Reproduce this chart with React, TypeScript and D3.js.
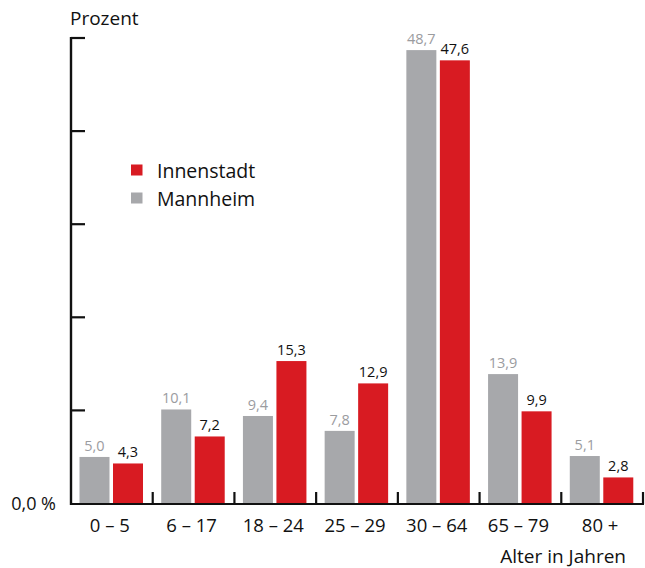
import React from "react";
import * as d3 from "d3";

const categories = ["0 – 5", "6 – 17", "18 – 24", "25 – 29", "30 – 64", "65 – 79", "80 +"];
const seriesNames = ["Mannheim", "Innenstadt"];
const mannheim = [5.0, 10.1, 9.4, 7.8, 48.7, 13.9, 5.1];
const innenstadt = [4.3, 7.2, 15.3, 12.9, 47.6, 9.9, 2.8];
const yTicks = [0, 10, 20, 30, 40, 50];

const RED = "#d81b22";
const GRAY = "#a7a8ab";
const LABEL_GRAY = "#9b9c9f";
const FONT = "'Open Sans', 'DejaVu Sans', sans-serif";

export default function App() {
  const W = 645, H = 568;
  const axisX = 71, axisRight = 643, baseY = 504;
  const y = d3.scaleLinear().domain([0, 50]).range([503.5, 38]);
  const x0 = d3.scaleBand<string>().domain(categories).range([axisX, axisRight]).paddingInner(0).paddingOuter(0);
  const x1 = d3.scaleBand<string>().domain(seriesNames).range([8.5, 72]).paddingInner(0.1045);
  const fmt = (v: number) => v.toFixed(1).replace(".", ",");
  const series = [
    { name: "Mannheim", values: mannheim, color: GRAY, label: LABEL_GRAY },
    { name: "Innenstadt", values: innenstadt, color: RED, label: "#111" },
  ];
  const boundaries = categories.map((c) => (x0(c) as number) + x0.bandwidth());

  return (
    <svg width={W} height={H} style={{ position: "absolute", left: 0, top: 0 }} fontFamily={FONT}>
      <rect width={W} height={H} fill="#fff" />
      {/* bars */}
      {series.map((s) =>
        s.values.map((v, i) => {
          const bx = (x0(categories[i]) as number) + (x1(s.name) as number);
          const top = y(v);
          return (
            <g key={s.name + i}>
              <rect x={bx} y={top} width={x1.bandwidth()} height={y(0) - top} fill={s.color} />
              <text x={bx + x1.bandwidth() / 2} y={top - 6} textAnchor="middle" fontSize={14.5} fill={s.label}>
                {fmt(v)}
              </text>
            </g>
          );
        })
      )}
      {/* y axis */}
      <line x1={axisX} x2={axisX} y1={y(50) - 1} y2={baseY + 1} stroke="#111" strokeWidth={2.4} />
      {yTicks.filter((t) => t > 0).map((t) => (
        <line key={t} x1={axisX} x2={axisX + 14} y1={y(t)} y2={y(t)} stroke="#111" strokeWidth={2.2} />
      ))}
      {/* x axis */}
      <line x1={axisX - 1} x2={axisRight + 1} y1={baseY} y2={baseY} stroke="#111" strokeWidth={2.2} />
      {boundaries.map((bx, i) => (
        <line key={i} x1={bx} x2={bx} y1={baseY} y2={baseY - 12} stroke="#111" strokeWidth={2.2} />
      ))}
      {categories.map((c) => (
        <text key={c} x={(x0(c) as number) + x0.bandwidth() / 2 - 2} y={532} textAnchor="middle" fontSize={18.5} fill="#111">
          {c}
        </text>
      ))}
      <text x={626} y={563} textAnchor="end" fontSize={19} fill="#111">Alter in Jahren</text>
      <text x={70} y={25} fontSize={19} fill="#111">Prozent</text>
      <text x={56} y={510} textAnchor="end" fontSize={18} fill="#111">0,0 %</text>
      {/* legend */}
      <rect x={131} y={164.5} width={11.5} height={11} fill={RED} />
      <text x={157} y={177.5} fontSize={19.5} fill="#111">Innenstadt</text>
      <rect x={131} y={192.5} width={11.5} height={11} fill={GRAY} />
      <text x={157} y={205.5} fontSize={19.5} fill="#111">Mannheim</text>
    </svg>
  );
}
